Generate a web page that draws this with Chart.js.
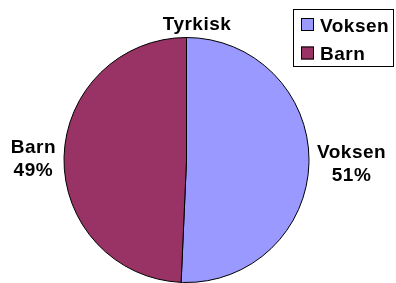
<!DOCTYPE html>
<html>
<head>
<meta charset="utf-8">
<script src="https://cdn.jsdelivr.net/npm/chart.js@4"></script>
<style>
  body { margin: 0; background: #fff; }
  canvas { display: block; }
</style>
</head>
<body>
<canvas id="chart" width="396" height="283"></canvas>
<script>
// data
const title = "Tyrkisk";
const categories = ["Voksen", "Barn"];
const values = [50.7, 49.3];
const colors = ["#9999FF", "#993366"];

const FONT = 'bold 19px "Liberation Sans", Arial, sans-serif';
const total = values.reduce((a, b) => a + b, 0);

// title, legend and slice labels
const textPlugin = {
  id: "texts",
  afterDraw(chart) {
    const ctx = chart.ctx;
    ctx.save();
    ctx.font = FONT;
    ctx.letterSpacing = "0.5px";
    ctx.fillStyle = "#000";
    ctx.textBaseline = "alphabetic";

    // title
    ctx.textAlign = "center";
    ctx.fillText(title, 197, 30);

    // legend box
    ctx.strokeStyle = "#000";
    ctx.lineWidth = 1;
    ctx.strokeRect(293.5, 9.5, 100, 57);
    ctx.textAlign = "left";
    categories.forEach((c, i) => {
      const y = 18 + i * 28.5;
      ctx.fillStyle = colors[i];
      ctx.fillRect(301, y, 13, 13);
      ctx.strokeRect(301.5, y + 0.5, 12, 12);
      ctx.fillStyle = "#000";
      ctx.fillText(c, 320, y + 13.5);
    });

    // labels outside slices
    const meta = chart.getDatasetMeta(0);
    meta.data.forEach((arc, i) => {
      const p = arc.getProps(["x", "y", "startAngle", "endAngle", "outerRadius"], true);
      const mid = (p.startAngle + p.endAngle) / 2;
      const r = p.outerRadius + 8;
      const px = p.x + Math.cos(mid) * r;
      const py = p.y + Math.sin(mid) * r;
      const lines = [categories[i], Math.round(values[i] / total * 100) + "%"];
      const w = Math.max(...lines.map(l => ctx.measureText(l).width));
      const cx = Math.cos(mid) >= 0 ? px + w / 2 : px - w / 2;
      ctx.textAlign = "center";
      lines.forEach((l, k) => {
        const ly = py + (k - 0.5) * 23;
        ctx.fillText(l, cx, ly + 7);
      });
    });
    ctx.restore();
  }
};

new Chart(document.getElementById("chart"), {
  type: "pie",
  data: {
    labels: categories,
    datasets: [{
      data: values,
      backgroundColor: colors,
      borderColor: "#000",
      borderWidth: 1
    }]
  },
  options: {
    responsive: false,
    animation: false,
    layout: { padding: { left: 63, right: 86, top: 37, bottom: 0 } },
    plugins: {
      legend: { display: false },
      tooltip: { enabled: false }
    }
  },
  plugins: [textPlugin]
});
</script>
</body>
</html>
